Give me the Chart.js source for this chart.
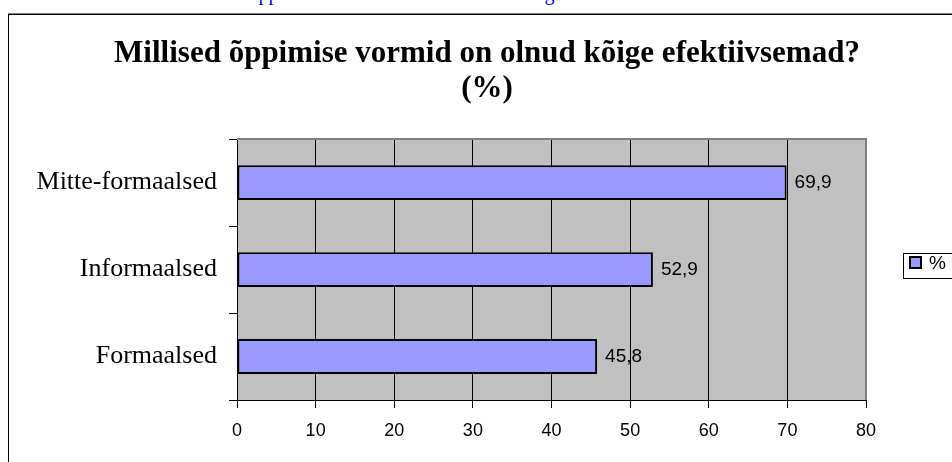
<!DOCTYPE html>
<html>
<head>
<meta charset="utf-8">
<script src="https://cdn.jsdelivr.net/npm/chart.js@4"></script>
<style>
  html, body { margin: 0; padding: 0; background: #fff; overflow: hidden; }
  #wrap { position: relative; width: 952px; height: 462px; overflow: hidden; }
  #myChart { position: absolute; left: 0; top: 0; }
  #caption {
    position: absolute; left: 244px; top: -17px;
    font: 20px 'Liberation Serif', 'Times New Roman', serif;
    line-height: 20px; color: #0000ff; white-space: nowrap;
  }
</style>
</head>
<body>
<div id="wrap">
  <div id="caption">Õppimise vormide efektiivsus hinnangute alusel</div>
  <!-- canvas is a bit wider than the window so the title centres like the original -->
  <canvas id="myChart" width="974" height="462"></canvas>
</div>
<script>
const categories = ['Mitte-formaalsed', 'Informaalsed', 'Formaalsed'];
const values = [69.9, 52.9, 45.8];
const seriesName = '%';
const titleLines = ['Millised õppimise vormid on olnud kõige efektiivsemad?', '(%)'];

const ctx = document.getElementById('myChart').getContext('2d');

// frame, plot background and the excel style legend box
const excelLook = {
  id: 'excelLook',
  beforeDraw(chart) {
    const c = chart.ctx;
    const a = chart.chartArea;
    c.save();
    c.fillStyle = '#808080';
    c.fillRect(8, 13, 966, 1);
    c.fillStyle = '#000';
    c.fillRect(8, 14, 966, 1);
    c.fillRect(8, 14, 1, 448);
    c.fillStyle = '#c0c0c0';
    c.fillRect(a.left, a.top, a.right - a.left, a.bottom - a.top);
    c.restore();
  },
  beforeDatasetsDraw(chart) {
    const c = chart.ctx;
    const a = chart.chartArea;
    c.save();
    c.strokeStyle = '#808080';
    c.lineWidth = 2;
    c.beginPath();
    c.moveTo(a.left, a.top);
    c.lineTo(a.right, a.top);
    c.lineTo(a.right, a.bottom);
    c.stroke();
    c.restore();
  },
  afterDatasetsDraw(chart) {
    const c = chart.ctx;
    c.save();
    c.font = '19px "Liberation Sans", Arial, sans-serif';
    c.fillStyle = '#000';
    c.textAlign = 'left';
    c.textBaseline = 'middle';
    chart.getDatasetMeta(0).data.forEach((bar, i) => {
      c.fillText(values[i].toFixed(1).replace('.', ','), bar.x + 8, bar.y);
    });
    c.restore();
  },
  afterDraw(chart) {
    const c = chart.ctx;
    c.save();
    c.fillStyle = '#fff';
    c.strokeStyle = '#000';
    c.lineWidth = 1;
    c.fillRect(903.5, 253.5, 80, 25);
    c.strokeRect(903.5, 253.5, 80, 25);
    c.fillStyle = '#9999ff';
    c.fillRect(910, 257, 11, 11);
    c.lineWidth = 2;
    c.strokeRect(910, 257, 11, 11);
    c.fillStyle = '#000';
    c.font = '19px "Liberation Sans", Arial, sans-serif';
    c.textBaseline = 'middle';
    c.fillText(seriesName, 929, 264);
    c.restore();
  },
};

const myChart = new Chart(ctx, {
  type: 'bar',
  data: {
    labels: categories,
    datasets: [
      {
        label: seriesName,
        data: values,
        backgroundColor: '#9999ff',
        borderColor: '#000',
        borderWidth: 2,
        borderSkipped: false,
        barPercentage: 0.4,
        categoryPercentage: 1,
      },
    ],
  },
  options: {
    indexAxis: 'y',
    responsive: false,
    animation: false,
    layout: {
      padding: 0,
    },
    scales: {
      x: {
        min: 0,
        max: 80,
        ticks: {
          stepSize: 10,
          color: '#000',
          padding: 12,
          font: { family: '"Liberation Sans", Arial, sans-serif', size: 18 },
        },
        grid: {
          color: (g) => (g.index === 8 ? '#808080' : '#000'),
          tickColor: '#000',
          lineWidth: 1,
          tickLength: 8,
        },
        border: { color: '#000', width: 1 },
        afterFit: (s) => { s.height = 62; },
      },
      y: {
        ticks: {
          color: '#000',
          padding: 12,
          font: { family: '"Liberation Serif", "Times New Roman", serif', size: 26 },
        },
        grid: {
          offset: true,
          drawOnChartArea: false,
          color: '#000',
          tickLength: 8,
        },
        border: { color: '#000', width: 1 },
        afterFit: (s) => { s.width = 237; },
      },
      // empty strip on the right where the legend sits
      yRight: {
        type: 'category',
        position: 'right',
        ticks: { display: false },
        grid: { display: false },
        border: { display: false },
        afterFit: (s) => { s.width = 108; },
      },
    },
    plugins: {
      legend: { display: false },
      tooltip: { enabled: false },
      title: {
        display: true,
        text: titleLines,
        color: '#000',
        font: { family: '"Liberation Serif", "Times New Roman", serif', size: 31, weight: 'bold', lineHeight: 1.13 },
        padding: { top: 36, bottom: 33 },
      },
    },
  },
  plugins: [excelLook],
});
</script>
</body>
</html>
